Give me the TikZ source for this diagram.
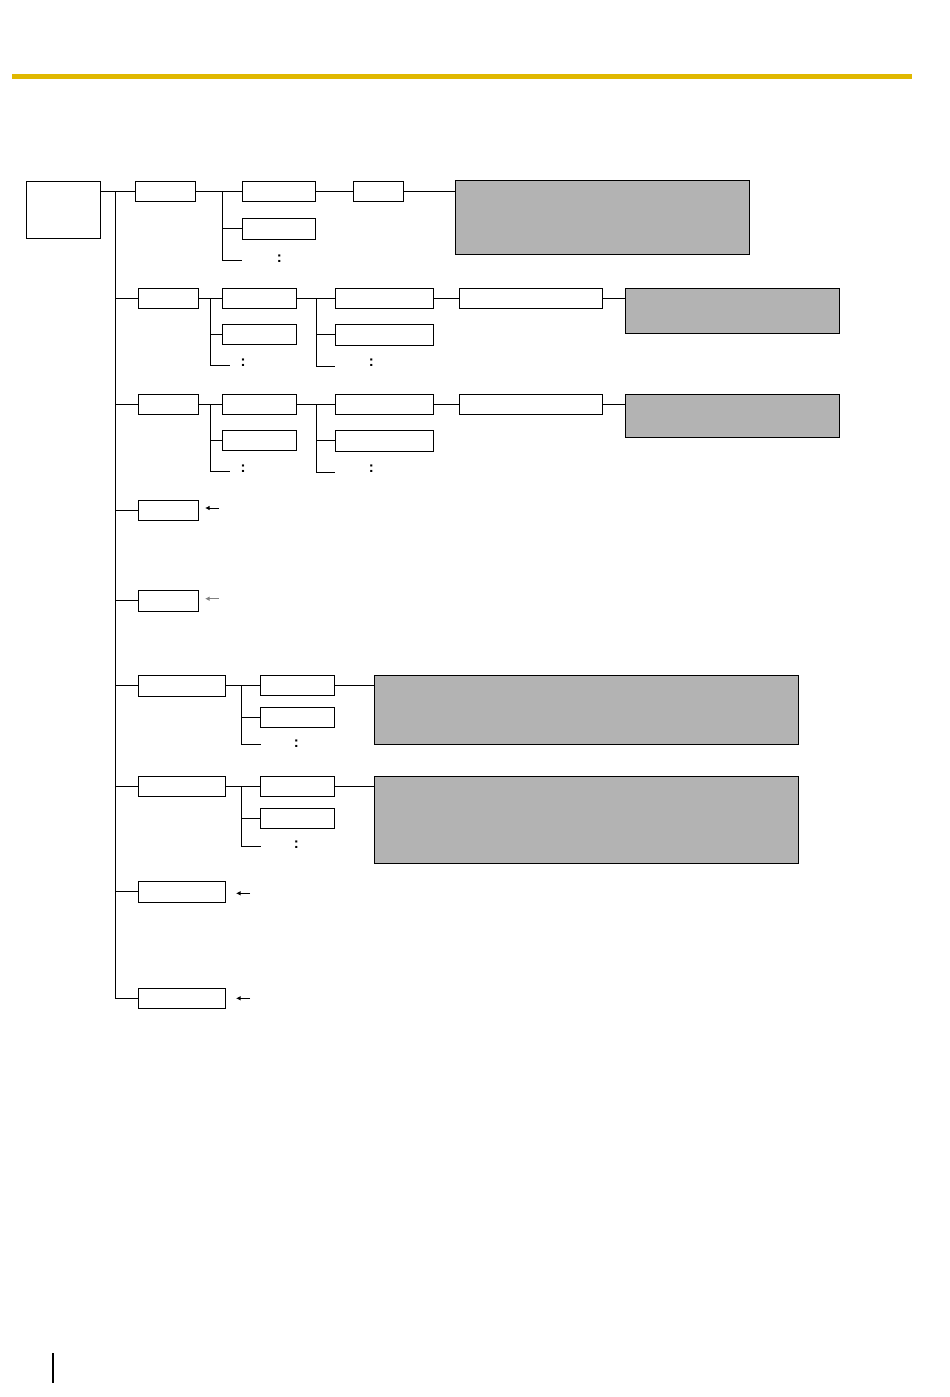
\documentclass[tikz,border=0pt]{standalone}
\usepackage{fontspec}
\setmainfont{Liberation Sans}
\usetikzlibrary{arrows.meta}
\definecolor{bargold}{RGB}{224,184,0}
\definecolor{boxgray}{RGB}{179,179,179}

\begin{document}
\begin{tikzpicture}[x=1pt, y=-1pt, line width=1pt,
  box/.style={draw, inner sep=0pt, minimum height=20pt},
  shaded/.style={box, fill=boxgray},
  more/.style={inner sep=0pt, font=\fontsize{15pt}{15pt}\selectfont\bfseries},
  pointer/.style={-{Latex[length=4.5pt,width=4.5pt]}}]
\useasboundingbox (0,0) rectangle (950,1397);
\fill[bargold] (12,74) rectangle (911.7,79);
\fill (51.7,1352.7) rectangle (53.7,1382.7);
\node[box, minimum width=73.7pt, minimum height=57pt] (root) at (63.8,209.8) {};
\coordinate (trunk) at (115.3,191.3);
\node[box, minimum width=60.3pt] (a1) at (165.2,191.3) {};
\node[box, minimum width=73.4pt] (b11) at (279,191.3) {};
\node[box, minimum width=73.4pt, minimum height=21pt] (b12) at (279,228.8) {};
\node[box, minimum width=50pt] (c1) at (378.3,191.3) {};
\node[shaded, minimum width=294.4pt, minimum height=74pt] (g1) at (602.5,217.3) {};
\coordinate (t1) at (222.3,191.3);
\coordinate (t1end) at (242.3,260);
\node[more] (dots1) at (279.3,259.2) {:};
\draw (root.east |- a1.west) -- (a1.west);
\draw (a1.east) -- (b11.west);
\draw (t1) |- (b12.west);
\draw (t1) |- (t1end);
\draw (b11.east) -- (c1.west);
\draw (c1.east) -- (c1.east -| g1.west);
\node[box, minimum width=60.4pt] (d2) at (168.5,298.3) {};
\node[box, minimum width=74pt] (e21) at (259.3,298.3) {};
\node[box, minimum width=74pt] (e22) at (259.3,334.3) {};
\node[box, minimum width=98.4pt] (f21) at (384.5,298.3) {};
\node[box, minimum width=98.4pt, minimum height=21pt] (f22) at (384.5,334.8) {};
\node[box, minimum width=143pt] (g2) at (530.8,298.3) {};
\node[shaded, minimum width=214pt, minimum height=45pt] (h2) at (732.3,310.8) {};
\coordinate (t2) at (210.3,298.3);
\coordinate (t2end) at (230,365.3);
\coordinate (u2) at (316.3,298.3);
\coordinate (u2end) at (335.3,366);
\node[more] (dots2a) at (243,363) {:};
\node[more] (dots2b) at (371.3,363.2) {:};
\draw (trunk |- d2.west) -- (d2.west);
\draw (d2.east) -- (e21.west);
\draw (t2) |- (e22.west);
\draw (t2) |- (t2end);
\draw (e21.east) -- (f21.west);
\draw (u2) |- (f22.west);
\draw (u2) |- (u2end);
\draw (f21.east) -- (g2.west);
\draw (g2.east) -- (g2.east -| h2.west);
\node[box, minimum width=60.4pt] (d3) at (168.5,404.3) {};
\node[box, minimum width=74pt] (e31) at (259.3,404.3) {};
\node[box, minimum width=74pt] (e32) at (259.3,440.3) {};
\node[box, minimum width=98.4pt] (f31) at (384.5,404.3) {};
\node[box, minimum width=98.4pt, minimum height=21pt] (f32) at (384.5,440.8) {};
\node[box, minimum width=143pt] (g3) at (530.8,404.3) {};
\node[shaded, minimum width=214pt, minimum height=43pt] (h3) at (732.3,415.8) {};
\coordinate (t3) at (210.3,404.3);
\coordinate (t3end) at (230,471.3);
\coordinate (u3) at (316.3,404.3);
\coordinate (u3end) at (335.3,472);
\node[more] (dots3a) at (243,469) {:};
\node[more] (dots3b) at (371.3,469.2) {:};
\draw (trunk |- d3.west) -- (d3.west);
\draw (d3.east) -- (e31.west);
\draw (t3) |- (e32.west);
\draw (t3) |- (t3end);
\draw (e31.east) -- (f31.west);
\draw (u3) |- (f32.west);
\draw (u3) |- (u3end);
\draw (f31.east) -- (g3.west);
\draw (g3.east) -- (g3.east -| h3.west);
\node[box, minimum width=60.4pt] (p4) at (168.5,510.3) {};
\node[box, minimum width=60.4pt, minimum height=21pt] (p5) at (168.5,600.7) {};
\coordinate (arr4) at (219,508);
\coordinate (arr4tip) at (205,508);
\coordinate (arr5) at (219,598.7);
\coordinate (arr5tip) at (205,598.7);
\draw (trunk |- p4.west) -- (p4.west);
\draw (trunk |- p5.west) -- (p5.west);
\draw[pointer] (arr4) -- (arr4tip);
\draw[pointer, gray] (arr5) -- (arr5tip);
\node[box, minimum width=87.4pt, minimum height=21pt] (q6) at (182,685.8) {};
\node[box, minimum width=74pt] (r61) at (297.3,685.8) {};
\node[box, minimum width=74pt] (r62) at (297.3,717.3) {};
\node[shaded, minimum width=423.7pt, minimum height=69pt] (s6) at (586.2,709.8) {};
\coordinate (t6) at (241.7,685.8);
\coordinate (t6end) at (260.7,744.3);
\node[more] (dots6) at (296.3,743.5) {:};
\draw (trunk |- q6.west) -- (q6.west);
\draw (q6.east) -- (r61.west);
\draw (t6) |- (r62.west);
\draw (t6) |- (t6end);
\draw (r61.east) -- (r61.east -| s6.west);
\node[box, minimum width=87.4pt] (q7) at (182,786.3) {};
\node[box, minimum width=74pt] (r71) at (297.3,786.3) {};
\node[box, minimum width=74pt] (r72) at (297.3,818.3) {};
\node[shaded, minimum width=423.7pt, minimum height=87pt] (s7) at (586.2,819.8) {};
\coordinate (t7) at (241.7,786.3);
\coordinate (t7end) at (260.7,846.3);
\node[more] (dots7) at (296.3,844.5) {:};
\draw (trunk |- q7.west) -- (q7.west);
\draw (q7.east) -- (r71.west);
\draw (t7) |- (r72.west);
\draw (t7) |- (t7end);
\draw (r71.east) -- (r71.east -| s7.west);
\node[box, minimum width=87.4pt, minimum height=21pt] (q8) at (182,891.8) {};
\node[box, minimum width=87.4pt] (q9) at (182,998.3) {};
\coordinate (arr8) at (250,893.3);
\coordinate (arr8tip) at (236,893.3);
\coordinate (arr9) at (250,998.3);
\coordinate (arr9tip) at (236,998.3);
\draw (trunk |- q8.west) -- (q8.west);
\draw (trunk) |- (q9.west);
\draw[pointer] (arr8) -- (arr8tip);
\draw[pointer] (arr9) -- (arr9tip);
\end{tikzpicture}
\end{document}
